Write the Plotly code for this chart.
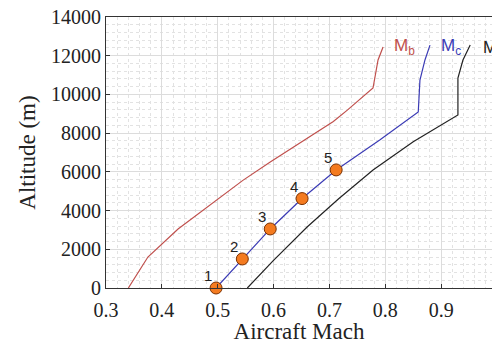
import plotly.graph_objects as go

mb_mach = [0.340, 0.375, 0.429, 0.499, 0.545, 0.594, 0.650, 0.701, 0.707, 0.732, 0.778, 0.787, 0.796]
mb_alt = [0, 1600, 3050, 4550, 5560, 6510, 7560, 8520, 8600, 9190, 10330, 11780, 12450]

mc_mach = [0.497, 0.544, 0.594, 0.651, 0.712, 0.790, 0.859, 0.862, 0.871, 0.880]
mc_alt = [0, 1500, 3050, 4620, 6100, 7650, 9090, 10740, 11780, 12550]

md_mach = [0.553, 0.599, 0.660, 0.716, 0.778, 0.850, 0.930, 0.930, 0.939, 0.952]
md_alt = [0, 1400, 3150, 4600, 6100, 7550, 8940, 10850, 11780, 12550]

pt_mach = [0.497, 0.544, 0.594, 0.651, 0.712]
pt_alt = [0, 1500, 3050, 4620, 6100]
pt_labels = ["1", "2", "3", "4", "5"]

curve_labels = ["M<sub>b</sub>", "M<sub>c</sub>", "M"]
curve_label_mach = [0.812, 0.897, 0.972]
curve_label_alt = [12450, 12450, 12450]
curve_colors = ["#c0504d", "#3b3bb5", "#222222"]

serif = "Liberation Serif"

fig = go.Figure()
fig.add_trace(go.Scatter(x=mb_mach, y=mb_alt, mode="lines", line=dict(color=curve_colors[0], width=1.2)))
fig.add_trace(go.Scatter(x=mc_mach, y=mc_alt, mode="lines", line=dict(color=curve_colors[1], width=1.2)))
fig.add_trace(go.Scatter(x=md_mach, y=md_alt, mode="lines", line=dict(color=curve_colors[2], width=1.2)))
fig.add_trace(go.Scatter(x=pt_mach, y=pt_alt, mode="markers",
                         marker=dict(size=12, color="#f47b20", line=dict(color="#7a3000", width=1)),
                         cliponaxis=False))

for lab, x, y in zip(pt_labels, pt_mach, pt_alt):
    fig.add_annotation(x=x, y=y, text=lab, showarrow=False, xanchor="right", yanchor="bottom",
                       xshift=-2, yshift=2, font=dict(family="Liberation Sans", size=15, color="#222"))

for lab, x, y, c in zip(curve_labels, curve_label_mach, curve_label_alt, curve_colors):
    fig.add_annotation(x=x, y=y, text=lab, showarrow=False, xanchor="left", yanchor="middle",
                       font=dict(family="Liberation Sans", size=17, color=c))

fig.update_layout(
    width=492, height=344,
    margin=dict(l=106, r=0, t=17, b=56),
    paper_bgcolor="white", plot_bgcolor="white",
    showlegend=False,
    font=dict(family=serif, size=20, color="#222"),
)
fig.update_xaxes(
    range=[0.3, 0.991], tickvals=[0.3, 0.4, 0.5, 0.6, 0.7, 0.8, 0.9],
    ticktext=["0.3", "0.4", "0.5", "0.6", "0.7", "0.8", "0.9"],
    tickfont=dict(family=serif, size=20, color="#222"),
    ticklabelstandoff=4,
    showgrid=True, gridcolor="#dcdcdc", gridwidth=1,
    minor=dict(dtick=0.02, tick0=0.3, showgrid=True, gridcolor="#e2e2e2", griddash="dot", gridwidth=1),
    showline=True, linecolor="#333", linewidth=1, mirror=True,
    ticks="inside", ticklen=4, tickcolor="#333",
    zeroline=False,
    title=dict(text="Aircraft Mach", font=dict(family=serif, size=23, color="#222"), standoff=3),
)
fig.update_yaxes(
    range=[0, 14000], dtick=2000, tickformat="d",
    tickfont=dict(family=serif, size=20, color="#222"),
    showgrid=True, gridcolor="#dcdcdc", gridwidth=1,
    minor=dict(dtick=400, showgrid=True, gridcolor="#e2e2e2", griddash="dot", gridwidth=1),
    showline=True, linecolor="#333", linewidth=1,
    ticks="inside", ticklen=4, tickcolor="#333",
    zeroline=False,
    title=dict(text="Altitude (m)", font=dict(family=serif, size=23, color="#222"), standoff=8),
)

fig.write_html("out.html")
